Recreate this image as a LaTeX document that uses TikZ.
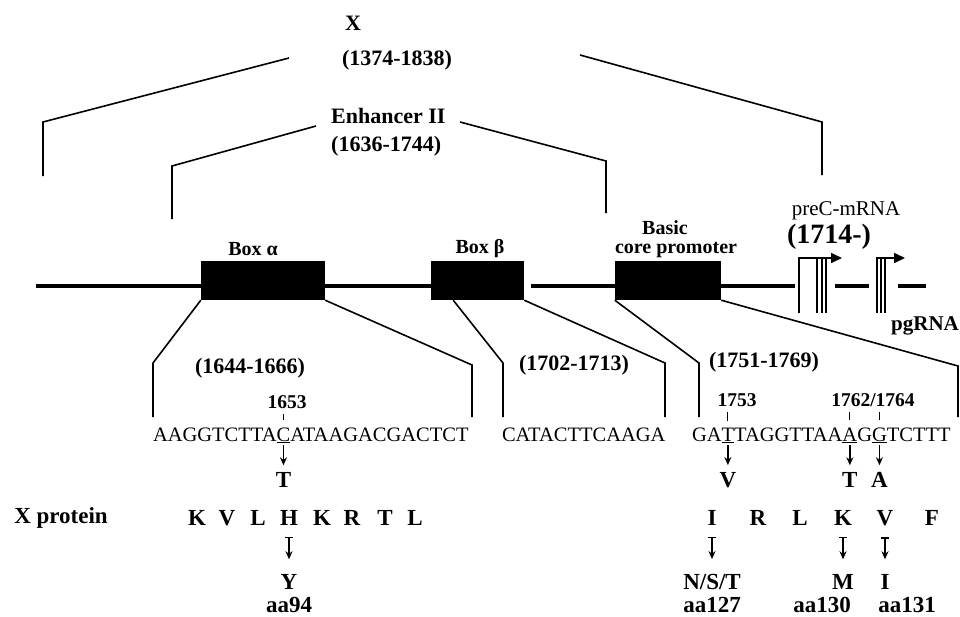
\documentclass[tikz,border=0pt]{standalone}
\usepackage{fontspec}
\setmainfont{Liberation Serif}
\usepackage{tikz}
\usetikzlibrary{arrows.meta,positioning,calc}

\tikzset{
  seq/.style={font=\fontsize{20.5}{22}\selectfont,inner sep=0pt,outer sep=0pt},
  lab/.style={font=\fontsize{22}{24}\selectfont\bfseries,inner sep=0pt},
  boxlab/.style={font=\fontsize{20}{22}\selectfont\bfseries,inner sep=0pt},
  num/.style={font=\fontsize{19.5}{21}\selectfont\bfseries,inner sep=0pt},
  aa/.style={font=\fontsize{23}{25}\selectfont\bfseries,inner sep=0pt},
  blk/.style={fill=black,minimum height=39pt,inner sep=0pt},
  bracket/.style={line width=1.6pt,line join=miter},
  dna/.style={line width=4pt},
  tss/.style={line width=1.6pt,-{Triangle[length=11pt,width=10pt]}},
  mutarr/.style={line width=1.6pt,-{Stealth[length=8pt,width=7pt]}},
  subarr/.style={line width=1.6pt,{Bar[width=8pt]}-{Stealth[length=8pt,width=7pt]}},
  tick/.style={line width=1pt}
}

\begin{document}
\begin{tikzpicture}[x=1pt,y=-1pt]
\path[use as bounding box,fill=white] (0,0) rectangle (960,616);

% X region and Enhancer II
\node[lab] (xname) at (353,23) {X};
\node[lab] (xrange) at (397,60) {(1374-1838)};
\draw[bracket] (43,176) -- (43,122) -- (289,58);
\draw[bracket] (580,55) -- (822,122) -- (822,175);
\node[lab,anchor=west] (enh) at (331,116) {Enhancer II};
\node[lab,anchor=west] (enhrange) at (331,146) {(1636-1744)};
\draw[bracket] (172,219) -- (172,166) -- (316,126);
\draw[bracket] (460,122) -- (606,161) -- (606,213);

% DNA line with boxes
\coordinate (l0) at (36,286);
\coordinate (l1) at (531,286);
\coordinate (l2) at (795,286);
\node[blk,minimum width=124pt] (boxa) at (263,280.5) {};
\node[blk,minimum width=93pt] (boxb) at (477.5,280.5) {};
\node[blk,minimum width=106pt] (bcp) at (668,280.5) {};
\draw[dna] (l0) -- (l0 -| boxa.west);
\draw[dna] (boxa.east |- l0) -- (boxb.west |- l0);
\draw[dna] (l1) -- (l1 -| bcp.west);
\draw[dna] (bcp.east |- l0) -- (l2);
\draw[dna] (835,286) -- (869,286);
\draw[dna] (898,286) -- (926,286);
\node[boxlab] (boxalab) at (253,249) {Box α};
\node[boxlab] (boxblab) at (480,249) {Box β};
\node[boxlab] (basic) at (665,228) {Basic};
\node[boxlab] (corep) at (676,250) {core promoter};

% transcription starts
\draw[tss] (799,313) -- (799,258) -- (842,258);
\foreach \x in {817,822,826} \draw[line width=1.2pt] (\x,258) -- (\x,313);
\draw[tss] (877,313) -- (877,258) -- (905,258);
\foreach \x in {881,885} \draw[line width=1.2pt] (\x,258) -- (\x,313);
\node[font=\fontsize{21}{23}\selectfont,inner sep=0pt] (prec) at (846,211) {preC-mRNA};
\node[font=\fontsize{28}{30}\selectfont\bfseries,inner sep=0pt] (precpos) at (829,237) {(1714-)};
\node[font=\fontsize{21}{23}\selectfont\bfseries,inner sep=0pt] (pg) at (925,326) {pgRNA};

% expansions
\draw[bracket] (boxa.south west) -- (153,363) -- (153,417);
\draw[bracket] (boxa.south east) -- (472,365) -- (472,417);
\draw[bracket] ($(boxb.south west)!0.24!(boxb.south east)$) -- (503,363) -- (503,417);
\draw[bracket] (boxb.south east) -- (665,363) -- (665,417);
\draw[bracket] (bcp.south west) -- (699,363) -- (699,417);
\draw[bracket] (bcp.south east) -- (958,366) -- (958,417);
\node[lab] (ra) at (250,368) {(1644-1666)};
\node[lab] (rb) at (574,365) {(1702-1713)};
\node[lab] (rc) at (764,362) {(1751-1769)};

% sequences
\node[seq,anchor=base west] (s1a) at (153,441) {AAGGTCTTA};
\node[seq,anchor=base west] (u1653) at (s1a.base east) {\underline{C}};
\node[seq,anchor=base west] (s1b) at (u1653.base east) {ATAAGACGACTCT};
\node[seq,anchor=base west] (s2) at (502,441) {CATACTTCAAGA};
\node[seq,anchor=base west] (s3a) at (692,441) {GA};
\node[seq,anchor=base west] (u1753) at (s3a.base east) {\underline{T}};
\node[seq,anchor=base west] (s3b) at (u1753.base east) {TAGGTTAA};
\node[seq,anchor=base west] (u1762) at (s3b.base east) {\underline{A}};
\node[seq,anchor=base west] (s3c) at (u1762.base east) {G};
\node[seq,anchor=base west] (u1764) at (s3c.base east) {\underline{G}};
\node[seq,anchor=base west] (s3d) at (u1764.base east) {TCTTT};

% positions and base changes
\node[num] (n1653) at (287,402) {1653};
\node[num] (n1753) at (737,400) {1753};
\node[num] (n1762) at (873,400) {1762/1764};
\draw[tick,shorten <=5pt,shorten >=7pt] (n1653.south -| u1653) -- (u1653.north);
\draw[tick,shorten <=5pt,shorten >=7pt] (n1753.south -| u1753) -- (u1753.north);
\draw[tick,shorten <=5pt,shorten >=7pt] (n1762.south -| u1762) -- (u1762.north);
\draw[tick,shorten <=5pt,shorten >=7pt] (n1762.south -| u1764) -- (u1764.north);
\foreach \b/\m in {1653/T,1753/V,1762/T,1764/A}{
  \node[aa] (m\b) at (u\b |- 0,480) {\m};
  \draw[mutarr,shorten <=2pt,shorten >=7pt] (u\b.south) -- (m\b.north);
}

% X protein
\node[aa] (xprot) at (61,518) {X protein};
\foreach \x/\a [count=\i from 91] in {197/K,227/V,258/L,289/H,322/K,352/R,385/T,415/L}
  \node[aa] (a\i) at (\x,518) {\a};
\foreach \x/\a [count=\i from 127] in {712/I,758/R,800/L,843/K,885/V,932/F}
  \node[aa] (a\i) at (\x,518) {\a};
\foreach \i/\s in {94/Y,127/N\slash S\slash T,130/M,131/I}{
  \node[aa] (b\i) at (a\i |- 0,582) {\s};
  \draw[subarr,shorten <=11pt,shorten >=15pt] (a\i.south) -- (b\i.north);
}
\node[aa] (aa94) at (289,605) {aa94};
\node[aa] (aa127) at (712,605) {aa127};
\node[aa] (aa130) at (822,605) {aa130};
\node[aa] (aa131) at (907,605) {aa131};
\end{tikzpicture}
\end{document}
